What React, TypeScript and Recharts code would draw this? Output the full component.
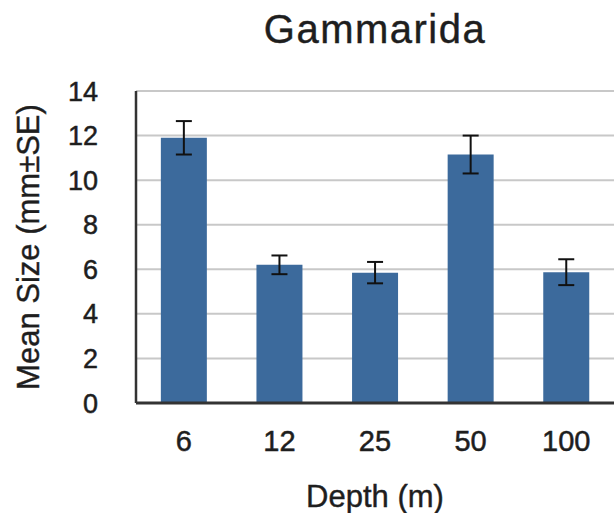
import { BarChart, Bar, XAxis, YAxis, CartesianGrid, ErrorBar, Label } from 'recharts';

const depths = ['6', '12', '25', '50', '100'];
const meanSize = [11.9, 6.2, 5.85, 11.15, 5.87];
const stdErr = [0.75, 0.42, 0.48, 0.85, 0.58];
const yTicks = [0, 2, 4, 6, 8, 10, 12, 14];

const data = depths.map((d, i) => ({ depth: d, size: meanSize[i], se: stdErr[i] }));

const FONT = '"Liberation Sans", Arial, Helvetica, sans-serif';
const BAR = '#3c6a9c';
const INK = '#1e1e1e';

export default function App() {
  return (
    <div style={{ position: 'absolute', left: 0, top: 0, width: 614, height: 513, fontFamily: FONT, background: '#fff' }}>
      <div
        style={{
          position: 'absolute', left: 136, top: 9, width: 478, textAlign: 'center',
          fontSize: 40, lineHeight: '40px', letterSpacing: 1.5, color: INK,
          WebkitTextStroke: '0.4px #1e1e1e',
        }}
      >
        Gammarida
      </div>
      <BarChart
        width={614}
        height={513}
        data={data}
        margin={{ top: 91, right: 0, left: 0, bottom: 0 }}
        barCategoryGap="26%"
      >
        <CartesianGrid vertical={false} stroke="#c8c8c8" strokeWidth={2} />
        <XAxis
          dataKey="depth"
          height={110}
          tickSize={0}
          tickMargin={27}
          axisLine={{ stroke: '#333', strokeWidth: 3 }}
          tick={{ fill: INK, stroke: INK, strokeWidth: 0.5, fontSize: 29, fontFamily: FONT }}
        >
          <Label
            value="Depth (m)"
            position="insideBottom"
            offset={6}
            style={{ fill: INK, stroke: INK, strokeWidth: 0.4, fontSize: 31, fontFamily: FONT }}
          />
        </XAxis>
        <YAxis
          width={136}
          domain={[0, 14]}
          ticks={yTicks}
          interval={0}
          tickSize={0}
          tickMargin={38}
          axisLine={{ stroke: '#333', strokeWidth: 2.5 }}
          tick={{ fill: INK, stroke: INK, strokeWidth: 0.5, fontSize: 27, fontFamily: FONT }}
        >
          <Label
            value="Mean Size (mm±SE)"
            angle={-90}
            position="insideLeft"
            offset={28}
            style={{ fill: INK, stroke: INK, strokeWidth: 0.4, fontSize: 31, fontFamily: FONT, textAnchor: 'middle' }}
          />
        </YAxis>
        <Bar dataKey="size" fill={BAR} isAnimationActive={false}>
          <ErrorBar dataKey="se" width={8} stroke="#111" strokeWidth={2} />
        </Bar>
      </BarChart>
    </div>
  );
}
